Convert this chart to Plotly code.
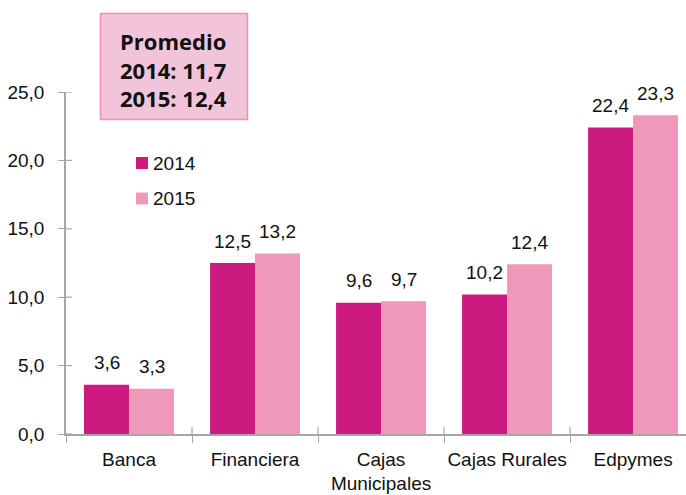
import plotly.graph_objects as go

# Categories and yearly values
categorias = ["Banca", "Financiera", "Cajas<br>Municipales", "Cajas Rurales", "Edpymes"]
valores_2014 = [3.6, 12.5, 9.6, 10.2, 22.4]
valores_2015 = [3.3, 13.2, 9.7, 12.4, 23.3]
series_nombres = ["2014", "2015"]
promedio_2014 = 11.7
promedio_2015 = 12.4

y_ticks = [0, 5, 10, 15, 20, 25]
y_ticktext = ["0,0", "5,0", "10,0", "15,0", "20,0", "25,0"]

COLOR_2014 = "#cc1a80"
COLOR_2015 = "#ee99ba"
AXIS_COLOR = "#a6a6a6"
FONT = "Liberation Sans, Arial, sans-serif"
FS = 19

W, H = 686, 495
M_L, M_R, M_T, M_B = 66, 0, 92, 61
PW, PH = W - M_L - M_R, H - M_T - M_B


def fmt(v):
    return f"{v:.1f}".replace(".", ",")


def px_x(px):
    return (px - M_L) / PW


def px_y(py):
    return (H - M_B - py) / PH


fig = go.Figure()
for name, vals, color in [(series_nombres[0], valores_2014, COLOR_2014),
                          (series_nombres[1], valores_2015, COLOR_2015)]:
    fig.add_trace(go.Bar(
        name=name, x=categorias, y=vals, marker_color=color,
        marker_line_width=0, showlegend=False,
    ))

annotations = []
# value labels above each bar
for k, vals in enumerate([valores_2014, valores_2015]):
    shift = -22.5 if k == 0 else 22.5
    for c, v in zip(categorias, vals):
        annotations.append(dict(
            x=c, y=v, xref="x", yref="y", text=fmt(v), showarrow=False,
            xshift=shift, yshift=22, yanchor="middle",
            font=dict(family=FONT, size=FS, color="#111111"),
        ))

# legend drawn as swatches with labels
shapes = []
for name, color, cy in [(series_nombres[0], COLOR_2014, 163), (series_nombres[1], COLOR_2015, 198.5)]:
    shapes.append(dict(type="rect", xref="paper", yref="paper",
                       x0=px_x(136), x1=px_x(148), y0=px_y(cy + 6), y1=px_y(cy - 6),
                       fillcolor=color, line_width=0))
    annotations.append(dict(x=px_x(151), y=px_y(cy), xref="paper", yref="paper",
                            text=name, showarrow=False, xanchor="left", yanchor="middle",
                            font=dict(family=FONT, size=FS, color="#111111")))

# average box
shapes.append(dict(type="rect", xref="paper", yref="paper",
                   x0=px_x(100.5), x1=px_x(247.5), y0=px_y(119.5), y1=px_y(13.5),
                   fillcolor="#f2c4d9", line=dict(color="#ee90b6", width=1.5)))
caja_texto = (f"<b>Promedio</b><br><b>2014: {fmt(promedio_2014)}</b>"
              f"<br><b>2015: {fmt(promedio_2015)}</b>")
annotations.append(dict(x=px_x(118), y=px_y(70), xref="paper", yref="paper",
                        text=caja_texto, showarrow=False, xanchor="left", yanchor="middle",
                        align="left",
                        font=dict(family="Open Sans, sans-serif", size=22, color="#111111")))

# inner halves of the crossing tick marks
for t in y_ticks:
    shapes.append(dict(type="line", xref="paper", yref="y", x0=0, x1=6 / PW, y0=t, y1=t,
                       line=dict(color=AXIS_COLOR, width=1.2)))
for i in range(1, len(categorias)):
    shapes.append(dict(type="line", xref="x", yref="paper", x0=i - 0.5, x1=i - 0.5,
                       y0=0, y1=7 / PH, line=dict(color=AXIS_COLOR, width=1.2)))

fig.update_layout(
    width=W, height=H,
    margin=dict(l=M_L, r=M_R, t=M_T, b=M_B),
    paper_bgcolor="white", plot_bgcolor="white",
    barmode="group", bargap=0.286, bargroupgap=0,
    annotations=annotations, shapes=shapes,
    xaxis=dict(
        range=[-0.5, 4.42], tickson="boundaries", ticks="outside", ticklen=7,
        tickcolor=AXIS_COLOR, tickwidth=1.2, showline=True, linecolor=AXIS_COLOR,
        linewidth=1.5, showgrid=False, zeroline=False, fixedrange=True,
        tickangle=0, automargin=False, ticklabelstandoff=7,
        tickfont=dict(family=FONT, size=FS, color="#111111"),
    ),
    yaxis=dict(
        range=[0, 25], tickvals=y_ticks, ticktext=y_ticktext, ticks="outside",
        ticklen=6, tickcolor=AXIS_COLOR, tickwidth=1.2, showline=True,
        linecolor=AXIS_COLOR, linewidth=1.5, showgrid=False, zeroline=False,
        ticklabelstandoff=10, automargin=False,
        tickfont=dict(family=FONT, size=FS, color="#111111"),
    ),
)

fig.write_html("out.html")
